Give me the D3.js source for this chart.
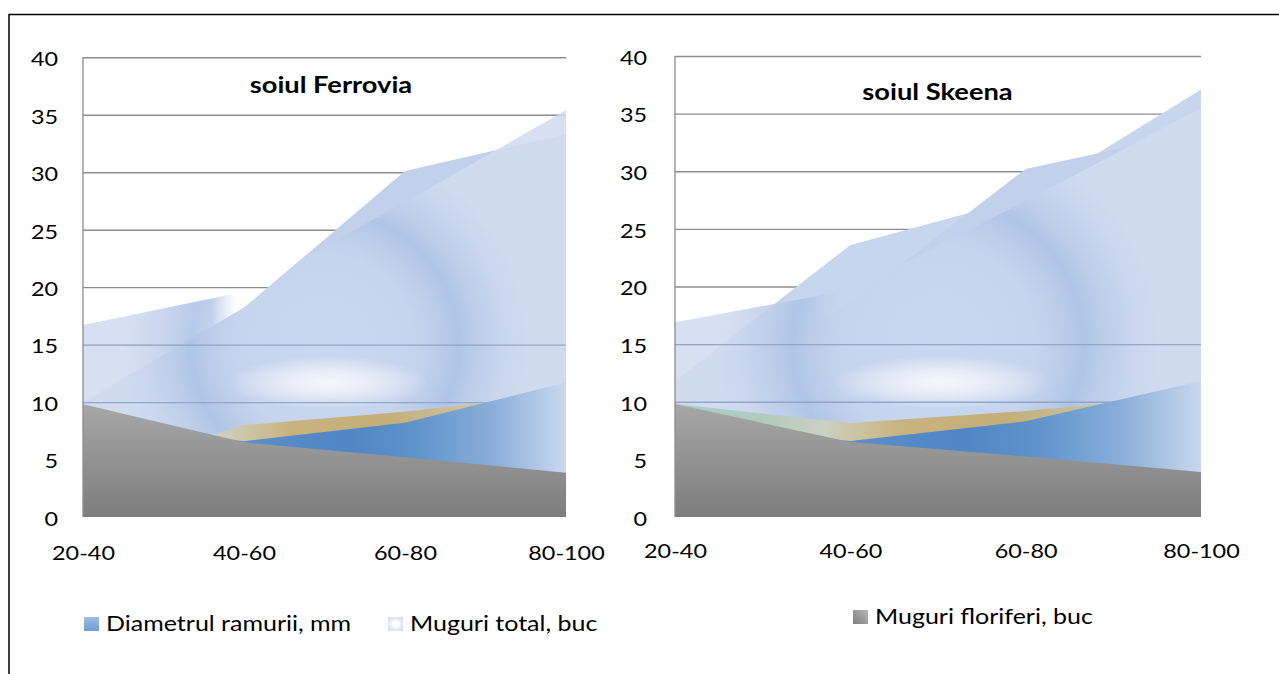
<!DOCTYPE html>
<html>
<head>
<meta charset="UTF-8">
<title>soiul Ferrovia / soiul Skeena</title>
<script src="https://d3js.org/d3.v7.min.js"></script>
<style>
  body {margin: 0; background: #fff;}
  svg text {font-family: Lato, "Open Sans", sans-serif; fill: #000;}
</style>
</head>
<body>
<div id="chart"></div>
<script>
var categories = ["20-40", "40-60", "60-80", "80-100"];
var yTicks = [0, 5, 10, 15, 20, 25, 30, 35, 40];

// soiul Ferrovia
var ferrFloriferi = [9.8, 6.5, 5.2, 3.85];
var ferrDiametrul = [8.2, 6.6, 8.2, 11.7];
var ferrAuriu = [3.7, 8.0, 9.15, 10.8];
var ferrTotal = [16.7, 19.6, 27.4, 35.4];
var ferrFundal = [10, 18.2, 30.1, 33.3];

// soiul Skeena
var skFloriferi = [9.8, 6.5, 5.25, 3.9];
var skDiametrul = [8.0, 6.6, 8.3, 11.8];
var skAuriu = [9.8, 8.15, 9.2, 10.6];
var skTotal = [16.9, 19.7, 27.4, 35.5];
var skFundal = [10, 18.5, 30.2, 33.5];
var skFundal2 = [11.8, 23.6, 27.7, 37.1];

var W = 1279, H = 674;

var svg = d3.select("#chart").append("svg")
    .attr("width", W)
    .attr("height", H);
var defs = svg.append("defs");

// outer frame
svg.append("rect")
    .attr("x", 9).attr("y", 14.5)
    .attr("width", W).attr("height", H)
    .attr("fill", "none")
    .attr("stroke", "#000")
    .attr("stroke-width", 1.5);

function gradient(id, type, attrs, stops) {
  var gr = defs.append(type).attr("id", id);
  for (var k in attrs) gr.attr(k, attrs[k]);
  stops.forEach(function(s) {
    gr.append("stop").attr("offset", s[0]).attr("stop-color", s[1])
      .attr("stop-opacity", s.length > 2 ? s[2] : 1);
  });
  return "url(#" + id + ")";
}

// legend icon fills
var iconFill = {
  diam: gradient("ic-diam", "linearGradient", {x1: 0, y1: 0, x2: 0, y2: 1},
    [[0, "#a0bee6"], [1, "#6f9cd3"]]),
  total: gradient("ic-total", "radialGradient", {cx: 0.5, cy: 0.5, r: 0.6},
    [[0, "#ffffff"], [0.35, "#ffffff"], [0.6, "#e6ecf7"], [1, "#d6dff0"]]),
  flor: gradient("ic-flor", "linearGradient", {x1: 1, y1: 0, x2: 0, y2: 1},
    [[0, "#b8b8b8"], [1, "#7f7f7f"]])
};

var panels = [
  {id: "fe", title: "soiul Ferrovia", left: 83, right: 566, top: 57.3, bottom: 517,
   titleX: 331, titleY: 93, labelRight: 58, xLabelY: 560,
   floriferi: ferrFloriferi, diametrul: ferrDiametrul, auriu: ferrAuriu,
   total: ferrTotal, fundal: ferrFundal, fundal2: null,
   legend: [
     {name: "Diametrul ramurii, mm", icon: "diam", x: 84, y: 631},
     {name: "Muguri total, buc", icon: "total", x: 388, y: 631}
   ]},
  {id: "sk", title: "soiul Skeena", left: 675, right: 1201, top: 56, bottom: 517,
   titleX: 937.5, titleY: 100, labelRight: 647, xLabelY: 558,
   floriferi: skFloriferi, diametrul: skDiametrul, auriu: skAuriu,
   total: skTotal, fundal: skFundal, fundal2: skFundal2,
   legend: [
     {name: "Muguri floriferi, buc", icon: "flor", x: 853, y: 624}
   ]}
];

function stretchText(sel, s) {
  return sel.attr("transform", "scale(" + s + ",1)");
}

function drawPanel(p) {
  var x = d3.scalePoint().domain(categories).range([p.left, p.right]);
  var y = d3.scaleLinear().domain([0, 40]).range([p.bottom, p.top]);
  var w = p.right - p.left;
  var u = function(v) { return v / 3; }; // category units -> gradient offset

  var area = d3.area()
      .x(function(d, i) { return x(categories[i]); })
      .y0(y(0))
      .y1(function(d) { return y(d); });

  var g = svg.append("g");

  // gradients for this panel
  var grayFill = gradient(p.id + "-gray", "linearGradient",
    {gradientUnits: "userSpaceOnUse", x1: 0, y1: y(10), x2: 0, y2: y(0)},
    [[0, "#a8a8a8"], [1, "#7d7d7d"]]);
  var blueFill = gradient(p.id + "-blue", "linearGradient",
    {gradientUnits: "userSpaceOnUse", x1: x(categories[1]) - 15, y1: 0, x2: p.right, y2: 0},
    [[0, "#5b90ca"], [0.35, "#4f86c4"], [0.55, "#5e93cb"], [0.78, "#8aaed9"], [1, "#c8d7ef"]]);
  var tanFill = gradient(p.id + "-tan", "linearGradient",
    {gradientUnits: "userSpaceOnUse", x1: p.left, y1: 0, x2: p.right, y2: 0},
    [[u(0), "#a6cec6"], [u(0.5), "#b0cbbf"], [u(0.85), "#ccd0c4"], [u(1.0), "#cdc6a8"],
     [u(1.3), "#c8b37f"], [u(1.9), "#c4ae78"], [u(2.3), "#c9bf9c"], [u(2.7), "#cfcbb9"], [u(3), "#d0cec4"]]);
  var ringFill = gradient(p.id + "-ring", "radialGradient",
    {gradientUnits: "userSpaceOnUse", cx: p.left + w / 2, cy: y(15), r: 0.42 * w},
    [[0, "#cad7ef"], [0.45, "#c6d4ed"], [0.58, "#b8cae9"], [0.66, "#adc3e6"],
     [0.76, "#bccde9"], [0.9, "#cbd7ee"], [1, "#d1dcf0"]]);
  var gx = p.left + w / 2 + 4, gy = y(11.7), rx = 0.21 * w, ry = 27;
  var glowFill = gradient(p.id + "-glow", "radialGradient",
    {gradientUnits: "userSpaceOnUse", cx: 0, cy: 0, r: 1,
     gradientTransform: "translate(" + gx + "," + gy + ") scale(" + rx + "," + ry + ")"},
    [[0, "#ffffff", 0.8], [0.45, "#ffffff", 0.55], [1, "#ffffff", 0]]);
  var fadeFill = gradient(p.id + "-fade", "linearGradient",
    {gradientUnits: "userSpaceOnUse", x1: p.left, y1: 0, x2: p.right, y2: 0},
    [[u(0), "#fff"], [u(0.8), "#fff"], [u(0.95), "#000"], [u(2.0), "#000"], [u(2.45), "#fff"], [u(3), "#fff"]]);

  // the pale series fades out above the background series
  var mask = defs.append("mask").attr("id", p.id + "-mask")
      .attr("maskUnits", "userSpaceOnUse")
      .attr("x", 0).attr("y", 0).attr("width", W).attr("height", H);
  mask.append("rect").attr("x", 0).attr("y", 0).attr("width", W).attr("height", H)
      .attr("fill", fadeFill);
  mask.append("path").attr("d", area(p.fundal)).attr("fill", "#fff");

  // gridlines
  var grid = g.append("g")
      .attr("transform", "translate(" + p.left + ",0)")
      .call(d3.axisLeft(y).tickValues(yTicks.slice(1)).tickSize(-w).tickFormat(""));
  grid.select(".domain").remove();
  grid.selectAll("line").attr("stroke", "#8e8e8e").attr("stroke-width", 1.4);

  // light areas
  if (p.fundal2) {
    g.append("path").attr("d", area(p.fundal2)).attr("fill", "#c7d5ed");
  }
  g.append("path").attr("d", area(p.fundal)).attr("fill", "#c2d0eb");
  g.append("path").attr("d", area(p.total))
      .attr("fill", ringFill).attr("fill-opacity", 0.88)
      .attr("mask", "url(#" + p.id + "-mask)");
  g.append("path").attr("d", area(p.total))
      .attr("fill", glowFill)
      .attr("mask", "url(#" + p.id + "-mask)");

  // gridlines showing through the light areas
  var grid2 = g.append("g")
      .attr("transform", "translate(" + p.left + ",0)")
      .call(d3.axisLeft(y).tickValues([10, 15]).tickSize(-w).tickFormat(""));
  grid2.select(".domain").remove();
  grid2.selectAll("line").attr("stroke", "#8a9dc2").attr("stroke-width", 1.4).attr("stroke-opacity", 0.85);

  // front areas
  g.append("path").attr("d", area(p.auriu)).attr("fill", tanFill);
  g.append("path").attr("d", area(p.diametrul)).attr("fill", blueFill);
  g.append("path").attr("d", area(p.floriferi)).attr("fill", grayFill);

  // vertical axis line
  g.append("line")
      .attr("x1", p.left).attr("x2", p.left)
      .attr("y1", y(40)).attr("y2", y(0))
      .attr("stroke", "#8c8c8c").attr("stroke-width", 1.3);

  // y labels
  var yAxis = g.append("g")
      .attr("transform", "translate(" + p.labelRight + ",0)")
      .call(d3.axisLeft(y).tickValues(yTicks).tickSize(0).tickPadding(0));
  yAxis.select(".domain").remove();
  yAxis.attr("font-family", null).attr("font-size", 19);
  stretchText(yAxis.selectAll("text").attr("x", 0).attr("dy", "0.44em").style("fill", "#000"), 1.23);

  // x labels
  var xAxis = g.append("g")
      .attr("transform", "translate(0," + p.xLabelY + ")")
      .call(d3.axisBottom(x).tickSize(0).tickPadding(0));
  xAxis.select(".domain").remove();
  xAxis.attr("font-family", null).attr("font-size", 19);
  stretchText(xAxis.selectAll("text").attr("y", 0).attr("dy", 0).style("fill", "#000"), 1.23);

  // title
  g.append("text")
      .attr("transform", "translate(" + p.titleX + "," + p.titleY + ") scale(1.24,1)")
      .attr("text-anchor", "middle")
      .attr("font-size", 22)
      .attr("font-weight", "bold")
      .text(p.title);

  // legend
  var leg = g.selectAll(".leg").data(p.legend).join("g")
      .attr("class", "leg")
      .attr("transform", function(d) { return "translate(" + d.x + "," + d.y + ")"; });
  leg.append("rect")
      .attr("x", 0).attr("y", -14)
      .attr("width", 15).attr("height", 14)
      .attr("fill", function(d) { return iconFill[d.icon]; });
  leg.append("text")
      .attr("transform", "translate(22,0) scale(1.19,1)")
      .attr("font-size", 21)
      .text(function(d) { return d.name; });
}

panels.forEach(drawPanel);
</script>
</body>
</html>
